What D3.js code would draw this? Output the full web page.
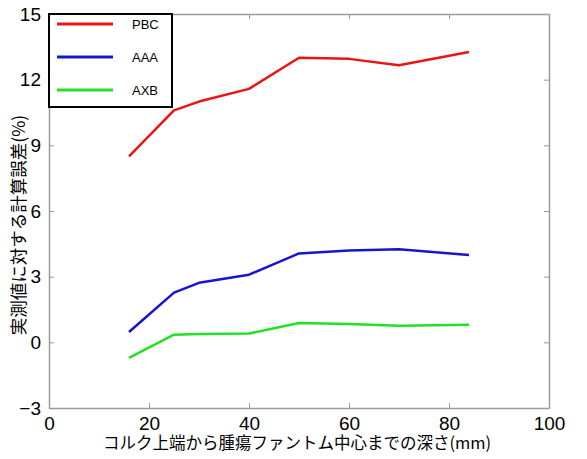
<!DOCTYPE html>
<html>
<head>
<meta charset="utf-8">
<script src="https://cdn.jsdelivr.net/npm/d3@7"></script>
<style>
  body { margin: 0; background: #fff; }
  text { font-family: "Liberation Sans", Arial, sans-serif; }
  .jp { font-family: "Noto Sans CJK JP", sans-serif; }
</style>
</head>
<body>
<div id="chart"></div>
<script>
// Chart size
const width = 587, height = 459;
const margin = {top: 14, right: 38, bottom: 51, left: 49};
const innerWidth = width - margin.left - margin.right;
const innerHeight = height - margin.top - margin.bottom;

// Data
const depths = [16, 25, 30, 40, 50, 60, 70, 84];
const pbcValues = [8.5, 10.6, 11.0, 11.58, 13.0, 12.95, 12.66, 13.26];
const aaaValues = [0.47, 2.27, 2.72, 3.09, 4.06, 4.2, 4.25, 3.99];
const axbValues = [-0.71, 0.35, 0.38, 0.40, 0.88, 0.84, 0.76, 0.80];
const seriesNames = ["PBC", "AAA", "AXB"];
const seriesColors = ["#e81515", "#1515d0", "#22e022"];
const xTicks = [0, 20, 40, 60, 80, 100];
const yTicks = [-3, 0, 3, 6, 9, 12, 15];

const svg = d3.select("#chart").append("svg")
  .attr("width", width)
  .attr("height", height);

const g = svg.append("g")
  .attr("transform", `translate(${margin.left}, ${margin.top})`);

const x = d3.scaleLinear().domain([0, 100]).range([0, innerWidth]);
const y = d3.scaleLinear().domain([-3, 15]).range([innerHeight, 0]);

// Axes box with inward ticks on all four sides
const tickColor = "#9a9a9a";
g.append("g")
  .attr("transform", `translate(0, ${innerHeight})`)
  .call(d3.axisBottom(x).tickValues(xTicks).tickSizeInner(-5).tickSizeOuter(0).tickPadding(9)
    .tickFormat(d3.format("d")));
g.append("g")
  .call(d3.axisTop(x).tickValues(xTicks).tickSizeInner(-5).tickSizeOuter(0).tickFormat(""));
g.append("g")
  .call(d3.axisLeft(y).tickValues(yTicks).tickSizeInner(-5).tickSizeOuter(0).tickPadding(8)
    .tickFormat(d => d < 0 ? "\u2212" + Math.abs(d) : d));
g.append("g")
  .attr("transform", `translate(${innerWidth}, 0)`)
  .call(d3.axisRight(y).tickValues(yTicks).tickSizeInner(-5).tickSizeOuter(0).tickFormat(""));

g.selectAll(".domain").attr("stroke", tickColor).attr("stroke-width", 1.5);
g.selectAll(".tick line").attr("stroke", tickColor);
g.selectAll(".tick text")
  .attr("fill", "#000")
  .style("font-size", "19px");

// Lines
const line = d3.line()
  .x((d, i) => x(depths[i]))
  .y(d => y(d));

[pbcValues, aaaValues, axbValues].forEach((vals, i) => {
  g.append("path")
    .datum(vals)
    .attr("fill", "none")
    .attr("stroke", seriesColors[i])
    .attr("stroke-width", 2.5)
    .attr("stroke-linejoin", "round")
    .attr("d", line);
});

// Legend
const legend = g.append("g");
legend.append("rect")
  .attr("x", 0)
  .attr("y", 0)
  .attr("width", 123)
  .attr("height", 93)
  .attr("fill", "#fff")
  .attr("stroke", "#000")
  .attr("stroke-width", 2);

seriesNames.forEach((name, i) => {
  const ly = 10 + i * 33;
  legend.append("line")
    .attr("x1", 8).attr("x2", 64)
    .attr("y1", ly).attr("y2", ly)
    .attr("stroke", seriesColors[i])
    .attr("stroke-width", 3);
  legend.append("text")
    .attr("x", 83)
    .attr("y", ly + 5)
    .style("font-size", "13px")
    .text(name);
});

// Axis titles
svg.append("text")
  .attr("class", "jp")
  .attr("x", 297)
  .attr("y", height - 10)
  .attr("text-anchor", "middle")
  .style("font-size", "16.5px")
  .text("コルク上端から腫瘍ファントム中心までの深さ(mm)");

svg.append("text")
  .attr("class", "jp")
  .attr("transform", "translate(25, 225) rotate(-90)")
  .attr("text-anchor", "middle")
  .style("font-size", "17.5px")
  .text("実測値に対する計算誤差(%)");
</script>
</body>
</html>
